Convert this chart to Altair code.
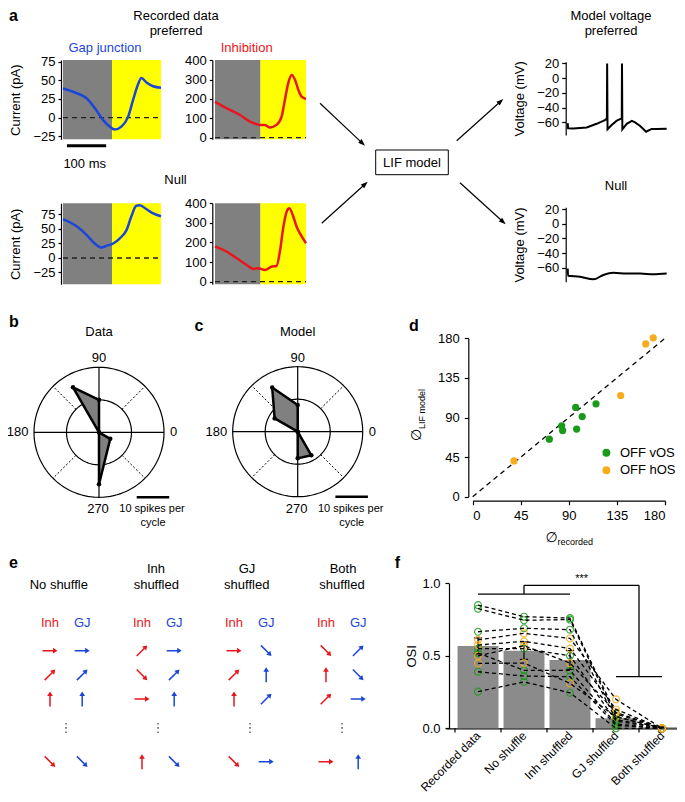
import math
import json
import altair as alt
import pandas as pd

W, H = 669, 786
FONT = "Liberation Sans"


def X(v):
    return round(v - 8, 2)


def Y(v):
    return round(v - 8, 2)


RED = "#e8161c"
BLUE = "#1b46d9"
GREEN = "#1a9a1a"
ORANGE = "#f8ac1c"
GRAYBG = "#808080"
YELLOW = "#ffff00"
BARGRAY = "#8b8b8b"

# ---------------- data ----------------
# panel a: recorded currents, time (ms) and current (pA)
STIM_T = [0, 125, 250]
T_GJ_PREF = [0, 34, 60, 85, 102, 119, 132, 149, 166, 179, 191, 200, 213, 230, 250]
I_GJ_PREF = [39, 33, 26, 10, -3, -12, -16, -12, 1, 24, 44, 53, 47, 42, 40]
T_INH_PREF = [0, 32, 69, 96, 124, 137, 151, 169, 183, 192, 201, 211, 220, 229, 238, 250]
I_INH_PREF = [185, 152, 117, 83, 66, 66, 53, 66, 109, 195, 281, 324, 298, 247, 212, 200]
T_GJ_NULL = [0, 34, 60, 81, 98, 111, 128, 145, 162, 174, 187, 196, 213, 230, 250]
I_GJ_NULL = [67, 55, 40, 25, 18, 21, 25, 34, 48, 71, 90, 91, 84, 77, 72]
T_INH_NULL = [0, 32, 60, 87, 105, 119, 137, 156, 169, 179, 188, 197, 204, 215, 224, 233, 250]
I_INH_NULL = [180, 153, 119, 85, 65, 68, 59, 77, 80, 162, 281, 357, 374, 332, 281, 247, 196]
SCALEBAR_MS = [10, 110]
# panel a: model voltage (mV)
T_V_PREF = [0, 1, 14, 48, 73, 94, 99, 99.6, 100.6, 111, 124, 136.5, 137.1, 138, 149, 162, 170, 183, 198, 212, 225, 250]
V_PREF = [-61, -68, -68.5, -67, -62, -57, -55, 20, -69.5, -63.6, -57.7, -54.6, 20, -69.5, -62, -58, -60, -65, -72.7, -69, -69, -68.6]
T_V_NULL = [0, 1, 31, 65, 90, 115, 149, 183, 216, 250]
V_NULL = [-61, -71, -72.3, -76, -70, -67, -68, -68, -69, -68]

# panels b, c: spikes per cycle by direction (deg)
B_ANG = [0, 90, 120, 180, 270, 330]
B_R = [0, 10, 16, 0, 16, 4]
C_ANG = [0, 90, 120, 150, 180, 270, 300]
C_R = [0, 8.2, 15.7, 8.2, 0, 8.2, 8.4]
SPIKE_BAR = [11.6, 21.6]

# panel d
VOS_REC = [96.4, 115.4, 102.5, 83.3, 84.2, 97.3, 71.7]
VOS_LIF = [101.4, 105.6, 91, 80.5, 75.2, 76.8, 65.4]
HOS_REC = [169, 162, 138.5, 38.6]
HOS_LIF = [180.5, 173.6, 115, 40.7]

# panel e: arrow directions (deg), rows of trials
E_COLS = ["No shuffle", "Inh shuffled", "GJ shuffled", "Both shuffled"]
E_ROWS = [0, 1, 2, 4.6]
E_INH = [[0, 45, 90, -45], [45, -45, 0, 90], [0, 45, 90, -45], [-45, 90, 45, 0]]
E_GJ = [[0, 45, 90, -45], [0, 45, 90, -45], [-45, 90, 45, 0], [45, -45, 0, 90]]

# panel f
CONDS = ["Recorded data", "No shuffle", "Inh shuffled", "GJ shuffled", "Both shuffled"]
OSI_MEAN = [0.568, 0.535, 0.471, 0.069, 0.007]
OSI_SEM = [0.055, 0.060, 0.065, 0.012, 0.003]
CELL_TYPE = ["vOS"] * 7 + ["hOS"] * 4
OSI_RECORDED = [0.85, 0.825, 0.666, 0.55, 0.52, 0.39, 0.253, 0.61, 0.574, 0.50, 0.448]
OSI_NO_SHUFFLE = [0.77, 0.745, 0.69, 0.55, 0.40, 0.36, 0.32, 0.655, 0.60, 0.57, 0.45]
OSI_INH_SHUFFLED = [0.76, 0.75, 0.68, 0.50, 0.40, 0.356, 0.245, 0.62, 0.55, 0.45, 0.31]
OSI_GJ_SHUFFLED = [0.10, 0.08, 0.06, 0.05, 0.03, 0.02, 0.0, 0.20, 0.13, 0.11, 0.08]
OSI_BOTH_SHUFFLED = [0.0] * 11


# ---------------- helpers ----------------
def sx(dom, a, b):
    return alt.Scale(domain=dom, range=[X(a), X(b)], nice=False, zero=False)


def sy(dom, bottom, top):
    return alt.Scale(domain=dom, range=[Y(bottom), Y(top)], nice=False, zero=False)


def laxis(axis_x, values, title=None, tick=3, pad=3, tpad=10, fmt=None):
    kw = dict(orient="left", offset=-X(axis_x), values=values, tickSize=tick,
              labelPadding=pad, grid=False, title=title)
    if title:
        kw["titlePadding"] = tpad
    if fmt:
        kw["format"] = fmt
    return alt.Axis(**kw)


ONE = pd.DataFrame({"k": [0]})


def text(s, x, y, size=13, color="black", weight="normal", align="center",
         baseline="middle", angle=0, font=FONT):
    kw = dict(text=s, fontSize=size, color=color, fontWeight=weight, align=align,
              baseline=baseline, font=font)
    if angle:
        kw["angle"] = angle
    return alt.Chart(ONE).mark_text(**kw).encode(x=alt.value(X(x)), y=alt.value(Y(y)))


def arrow(x1, y1, x2, y2, head=7):
    dx, dy = x2 - x1, y2 - y1
    L = math.hypot(dx, dy)
    ux, uy = dx / L, dy / L
    rot = math.degrees(math.atan2(dx, -dy)) % 360
    ex, ey = x2 - ux * head * 0.8, y2 - uy * head * 0.8
    cx, cy = x2 - ux * head / 2, y2 - uy * head / 2
    shaft = alt.Chart(ONE).mark_rule(color="black", strokeWidth=1.2).encode(
        x=alt.value(X(x1)), y=alt.value(Y(y1)), x2=alt.value(X(ex)), y2=alt.value(Y(ey)))
    tip = alt.Chart(ONE).mark_point(shape="M0,-1L0.72,1L-0.72,1Z", filled=True, color="black",
                                    size=head * head, angle=round(rot, 2), opacity=1,
                                    strokeWidth=0).encode(x=alt.value(X(cx)), y=alt.value(Y(cy)))
    return [shaft, tip]


layers = []


def trace(t, v, color, xa, xb, ybot, ytop, ydom, axis_x, ticks, title=None,
          shade=True, zero=True, interp="monotone", sw=2.5, tick=3, pad=3, tpad=10, bar=False):
    xs = sx([0, 250], xa, xb)
    ys = sy(ydom, ybot, ytop)
    yax = laxis(axis_x, ticks, title, tick=tick, pad=pad, tpad=tpad)
    parts = []
    if shade:
        bg = pd.DataFrame({"t0": STIM_T[:2], "t1": STIM_T[1:], "v0": [ydom[0]] * 2,
                           "v1": [ydom[1]] * 2, "k": ["off", "on"]})
        parts.append(alt.Chart(bg).mark_rect().encode(
            x=alt.X("t0:Q", scale=xs, axis=None), x2="t1:Q",
            y=alt.Y("v0:Q", scale=ys, axis=yax), y2="v1:Q",
            fill=alt.Fill("k:N", scale=alt.Scale(domain=["off", "on"], range=[GRAYBG, YELLOW]),
                          legend=None)))
    if zero:
        z = pd.DataFrame({"t0": [STIM_T[0]], "t1": [STIM_T[-1]], "v": [0]})
        parts.append(alt.Chart(z).mark_rule(color="#222222", strokeDash=[5, 4], strokeWidth=1.3).encode(
            x=alt.X("t0:Q", scale=xs, axis=None), x2="t1:Q",
            y=alt.Y("v:Q", scale=ys, axis=yax)))
    if bar:
        sb = pd.DataFrame({"a": [SCALEBAR_MS[0]], "b": [SCALEBAR_MS[1]]})
        parts.append(alt.Chart(sb).mark_rule(color="black", strokeWidth=3).encode(
            x=alt.X("a:Q", scale=xs, axis=None), x2="b:Q", y=alt.value(Y(145.7))))
    df = pd.DataFrame({"t": t, "v": v})
    parts.append(alt.Chart(df).mark_line(color=color, strokeWidth=sw, interpolate=interp).encode(
        x=alt.X("t:Q", scale=xs, axis=None),
        y=alt.Y("v:Q", scale=ys, axis=yax)))
    return alt.layer(*parts)


CUR = [-25, 0, 25, 50, 75]
INH = [0, 100, 200, 300, 400]
VOL = [-60, -40, -20, 0, 20]
layers.append(trace(T_GJ_PREF, I_GJ_PREF, BLUE, 63, 161, 139.3, 60, [-29, 77.2], 61, CUR, "Current (pA)", bar=True))
layers.append(trace(T_INH_PREF, I_INH_PREF, RED, 215, 306, 139.3, 60, [-8.6, 401.7], 212.3, INH))
layers.append(trace(T_GJ_NULL, I_GJ_NULL, BLUE, 63, 161, 284.3, 203.3, [-45.4, 94.3], 61, CUR, "Current (pA)"))
layers.append(trace(T_INH_NULL, I_INH_NULL, RED, 215, 306, 284.3, 203.3, [-13.6, 399.5], 212.3, INH))
layers.append(trace(T_V_PREF, V_PREF, "black", 567.7, 666.7, 135, 61.7, [-77.2, 22.3], 565.7, VOL,
                    "Voltage (mV)", shade=False, zero=False, interp="linear", sw=2, tick=4))
layers.append(trace(T_V_NULL, V_NULL, "black", 567.7, 666.7, 281.7, 207.3, [-79.2, 22.7], 565.7, VOL,
                    "Voltage (mV)", shade=False, zero=False, interp="monotone", sw=2, tick=4))

layers += [
    text("a", 9, 16, size=16, weight="bold", align="left"),
    text("Recorded data", 176, 15.5),
    text("preferred", 176, 30.5),
    text("Gap junction", 105, 48, color=BLUE),
    text("Inhibition", 246.7, 48, color=RED),
    text("100 ms", 84.7, 164),
    text("Null", 175.5, 180),
    text("Model voltage", 611, 15.5),
    text("preferred", 611, 30.5),
    text("Null", 616, 186),
]
layers.append(alt.Chart(ONE).mark_rect(fill="white", stroke="black", strokeWidth=1).encode(
    x=alt.value(X(375.7)), x2=alt.value(X(448.3)), y=alt.value(Y(150)), y2=alt.value(Y(174.7))))
layers.append(text("LIF model", 412, 162.5))
layers += arrow(320, 103.3, 365, 145.7)
layers += arrow(321.7, 223.3, 367.7, 181.7)
layers += arrow(456.7, 140.7, 503.3, 99)
layers += arrow(460, 182.7, 505.7, 224.3)


# ---------------- panels b, c ----------------
def polar(cx, cy, ang, r, title, R=65):
    xs = sx([-20, 20], cx - R, cx + R)
    ys = sy([-20, 20], cy + R, cy - R)
    parts = []
    seq = alt.sequence(0, 362, 2, as_="a")
    for rad in (10, 20):
        parts.append(alt.Chart(seq).transform_calculate(
            px=f"{rad}*cos(datum.a*PI/180)", py=f"{rad}*sin(datum.a*PI/180)"
        ).mark_line(color="black", strokeWidth=1.2).encode(
            x=alt.X("px:Q", scale=xs, axis=None), y=alt.Y("py:Q", scale=ys, axis=None),
            order="a:Q"))
    solid = pd.DataFrame({"ang": [0, 90, 180, 270], "r0": [0] * 4, "r1": [20] * 4})
    dotted = pd.DataFrame({"ang": [45, 135, 225, 315], "r0": [10] * 4, "r1": [20] * 4})
    calc = dict(x0="datum.r0*cos(datum.ang*PI/180)", y0="datum.r0*sin(datum.ang*PI/180)",
                x1="datum.r1*cos(datum.ang*PI/180)", y1="datum.r1*sin(datum.ang*PI/180)")
    for d, dash, w in ((solid, None, 1.2), (dotted, [2, 2], 1)):
        mk = dict(color="black", strokeWidth=w)
        if dash:
            mk["strokeDash"] = dash
        parts.append(alt.Chart(d).transform_calculate(**calc).mark_rule(**mk).encode(
            x=alt.X("x0:Q", scale=xs, axis=None), y=alt.Y("y0:Q", scale=ys, axis=None),
            x2="x1:Q", y2="y1:Q"))
    poly = pd.DataFrame({"ang": ang, "r": r, "idx": list(range(len(ang)))})
    pc = dict(px="datum.r*cos(datum.ang*PI/180)", py="datum.r*sin(datum.ang*PI/180)")
    parts.append(alt.Chart(poly).transform_calculate(**pc).mark_line(
        interpolate="linear-closed", color="black", strokeWidth=2.5, strokeJoin="round").encode(
        x=alt.X("px:Q", scale=xs, axis=None), y=alt.Y("py:Q", scale=ys, axis=None),
        order="idx:Q", fill=alt.value(GRAYBG)))
    parts.append(alt.Chart(poly).transform_calculate(**pc).mark_circle(color="black", size=20, opacity=1).encode(
        x=alt.X("px:Q", scale=xs, axis=None), y=alt.Y("py:Q", scale=ys, axis=None)))
    sb = pd.DataFrame({"a": [SPIKE_BAR[0]], "b": [SPIKE_BAR[1]]})
    parts.append(alt.Chart(sb).mark_rule(color="black", strokeWidth=2.5).encode(
        x=alt.X("a:Q", scale=xs, axis=None), x2="b:Q", y=alt.value(Y(cy + 65))))
    out = [alt.layer(*parts)]
    out += [
        text(title, cx, 331.7),
        text("90", cx, 358),
        text("180", cx - 70.5, cy, align="right"),
        text("0", cx + 71, cy, align="left"),
        text("270", cx - 1, 509),
        text("10 spikes per", cx + 53, 509.3, size=11),
        text("cycle", cx + 54, 523.3, size=11),
    ]
    return out


layers += polar(99, 432.3, B_ANG, B_R, "Data")
layers += polar(297.7, 431.7, C_ANG, C_R, "Model")
layers += [
    text("b", 9, 322, size=16, weight="bold", align="left"),
    text("c", 199, 326, size=16, weight="bold"),
    text("d", 414, 326, size=16, weight="bold"),
]

# ---------------- panel d ----------------
dxs = sx([0, 180], 472.7, 665)
dys = sy([0, 180], 496.7, 338.3)
dxax = alt.Axis(orient="bottom", offset=Y(500.7) - H, values=[0, 45, 90, 135, 180], tickSize=4,
                labelPadding=5, title=None, grid=False)
dyax = laxis(468.3, [0, 45, 90, 135, 180], tick=4, pad=5)
diag = pd.DataFrame({"a": [0], "b": [180]})
d_rule = alt.Chart(diag).mark_rule(color="black", strokeDash=[5, 4], strokeWidth=1.3).encode(
    x=alt.X("a:Q", scale=dxs, axis=dxax), y=alt.Y("a:Q", scale=dys, axis=dyax),
    x2="b:Q", y2="b:Q")
sc = pd.DataFrame({"rec": VOS_REC + HOS_REC, "lif": VOS_LIF + HOS_LIF,
                   "type": ["OFF vOS"] * len(VOS_REC) + ["OFF hOS"] * len(HOS_REC)})
d_pts = alt.Chart(sc).mark_circle(size=52, opacity=1).encode(
    x=alt.X("rec:Q", scale=dxs, axis=dxax),
    y=alt.Y("lif:Q", scale=dys, axis=dyax),
    color=alt.Color("type:N", scale=alt.Scale(domain=["OFF vOS", "OFF hOS"], range=[GREEN, ORANGE]),
                    legend=alt.Legend(orient="none", legendX=X(599.9), legendY=Y(446.2), title=None,
                                      labelFontSize=13, labelFont=FONT, symbolSize=62,
                                      symbolType="circle", labelOffset=7, rowPadding=3.6,
                                      padding=0, symbolStrokeWidth=0, labelColor="black")))
layers.append(alt.layer(d_rule, d_pts))
layers += [
    text("\u2205", 551.7, 538.3, size=14, font="DejaVu Sans"),
    text("recorded", 575.3, 541.7, size=9),
    text("\u2205", 416.7, 435, size=14, angle=270, font="DejaVu Sans"),
    text("LIF model", 421.5, 409, size=9, angle=270),
]

# ---------------- panel e ----------------
rows = []
for c in range(4):
    for side, dirs, kind in ((0, E_INH[c], "Inh"), (1, E_GJ[c], "GJ")):
        for ri, d in zip(E_ROWS, dirs):
            rows.append({"c": c, "side": side, "row": ri, "dir": d, "kind": kind})
edf = pd.DataFrame(rows)
exs = sx([0, 3], 50, 326)
eys = alt.Scale(domain=[0, 4.6], range=[Y(650.7), Y(761.7)], nice=False, zero=False)
ARROW = "M-0.1,1L0.1,1L0.1,-0.4L0.38,-0.4L0,-1L-0.38,-0.4L-0.1,-0.4Z"
kind_color = alt.Color("kind:N", scale=alt.Scale(domain=["Inh", "GJ"], range=[RED, BLUE]), legend=None)
e_arrows = alt.Chart(edf).transform_calculate(
    pos="datum.c + 0.35*datum.side", rot="90 - datum.dir"
).mark_point(shape=ARROW, filled=True, size=225, opacity=1, strokeWidth=0).encode(
    x=alt.X("pos:Q", scale=exs, axis=None), y=alt.Y("row:Q", scale=eys, axis=None),
    angle=alt.Angle("rot:Q", scale=None), color=kind_color)
lab = pd.DataFrame({"c": [c for c in range(4) for _ in (0, 1)], "side": [0, 1] * 4,
                    "kind": ["Inh", "GJ"] * 4})
e_labels = alt.Chart(lab).transform_calculate(pos="datum.c + 0.35*datum.side").mark_text(
    font=FONT, fontSize=13).encode(
    x=alt.X("pos:Q", scale=exs, axis=None), y=alt.value(Y(623.3)), text="kind:N", color=kind_color)
dots = pd.DataFrame({"c": list(range(4)), "row": [3.2] * 4})
e_dots = alt.Chart(dots).transform_calculate(pos="datum.c + 0.175").mark_text(
    text="\u22ee", font="DejaVu Sans", fontSize=13, color="#555555").encode(
    x=alt.X("pos:Q", scale=exs, axis=None), y=alt.Y("row:Q", scale=eys, axis=None))
layers.append(alt.layer(e_arrows, e_labels, e_dots))
layers += [
    text("e", 9, 563, size=16, weight="bold", align="left"),
    text("No shuffle", 58.8, 585),
    text("Inh", 156, 569.3), text("shuffled", 156.3, 585),
    text("GJ", 247, 569.3), text("shuffled", 246.7, 585),
    text("Both", 343, 569.3), text("shuffled", 342, 585),
    text("f", 397.5, 563, size=16, weight="bold"),
]

# ---------------- panel f ----------------
fxs = sx([-0.7, 4.5], 445.8, 685)
fys = sy([0, 1], 728.3, 583.3)
LABEL_EXPR = json.dumps(CONDS) + "[datum.value]"
fxax = alt.Axis(orient="bottom", offset=Y(728.3) - H, values=[0, 1, 2, 3, 4],
                labelExpr=LABEL_EXPR, labelAngle=315, labelAlign="right",
                labelBaseline="middle", ticks=False, tickSize=0, labelPadding=5,
                labelFontSize=12, labelOverlap=False, labelBound=False, title=None, grid=False)
fyax = laxis(449, [0, 0.5, 1], "OSI", tick=4, pad=5, tpad=3, fmt=".1f")
bars = pd.DataFrame({"i": list(range(5)), "mean": OSI_MEAN, "sem": OSI_SEM})
f_bar = alt.Chart(bars).transform_calculate(
    l="datum.i - 0.445", r="datum.i + 0.445", z="0"
).mark_bar(color=BARGRAY).encode(
    x=alt.X("l:Q", scale=fxs, axis=fxax), x2="r:Q",
    y=alt.Y("z:Q", scale=fys, axis=fyax), y2="mean:Q")
edges = pd.DataFrame({"e": [-0.5, 0.5, 1.5, 2.5, 3.5, 4.5]})
f_ticks = alt.Chart(edges).mark_rule(color="black", strokeWidth=1.2).encode(
    x=alt.X("e:Q", scale=fxs, axis=fxax), y=alt.value(Y(728.3)), y2=alt.value(Y(732.5)))
errc = dict(lo="datum.mean - datum.sem", hi="datum.mean + datum.sem",
            cl="datum.i - 0.09", cr="datum.i + 0.09")
f_err = alt.Chart(bars).transform_calculate(**errc).mark_rule(color="black", strokeWidth=1.2).encode(
    x=alt.X("i:Q", scale=fxs, axis=fxax), y=alt.Y("lo:Q", scale=fys, axis=fyax), y2="hi:Q")
f_cap1 = alt.Chart(bars).transform_calculate(**errc).mark_rule(color="black", strokeWidth=1.2).encode(
    x=alt.X("cl:Q", scale=fxs, axis=fxax), x2="cr:Q", y=alt.Y("hi:Q", scale=fys, axis=fyax))
f_cap2 = alt.Chart(bars).transform_calculate(**errc).mark_rule(color="black", strokeWidth=1.2).encode(
    x=alt.X("cl:Q", scale=fxs, axis=fxax), x2="cr:Q", y=alt.Y("lo:Q", scale=fys, axis=fyax))
cells = []
for ci, series in enumerate([OSI_RECORDED, OSI_NO_SHUFFLE, OSI_INH_SHUFFLED, OSI_GJ_SHUFFLED, OSI_BOTH_SHUFFLED]):
    for k, v in enumerate(series):
        cells.append({"cell": k, "type": CELL_TYPE[k], "i": ci, "osi": v})
cdf = pd.DataFrame(cells)
f_pts = alt.Chart(cdf).mark_point(shape="circle", filled=False, size=48, strokeWidth=1.1, opacity=0.85).encode(
    x=alt.X("i:Q", scale=fxs, axis=fxax), y=alt.Y("osi:Q", scale=fys, axis=fyax),
    color=alt.Color("type:N", scale=alt.Scale(domain=["vOS", "hOS"], range=[GREEN, ORANGE]), legend=None))
f_lines = alt.Chart(cdf).mark_line(color="black", strokeDash=[4, 3], strokeWidth=1.3).encode(
    x=alt.X("i:Q", scale=fxs, axis=fxax), y=alt.Y("osi:Q", scale=fys, axis=fyax),
    detail="cell:N", order="i:Q")
brk = pd.DataFrame({"x": [0, 1, 1, 3.5, 3], "x2": [2, 1, 3.5, 3.5, 4],
                    "y": [0.926, 0.926, 0.986, 0.986, 0.356], "y2": [0.926, 0.986, 0.986, 0.356, 0.356]})
f_brk = alt.Chart(brk).mark_rule(color="black", strokeWidth=1.3).encode(
    x=alt.X("x:Q", scale=fxs, axis=fxax), x2="x2:Q",
    y=alt.Y("y:Q", scale=fys, axis=fyax), y2="y2:Q")
layers.append(alt.layer(f_bar, f_ticks, f_err, f_cap1, f_cap2, f_pts, f_lines, f_brk))
layers.append(text("***", 581.7, 579, size=11))

chart = alt.layer(*layers).resolve_scale(
    x="independent", y="independent", color="independent", fill="independent",
    angle="independent", size="independent", shape="independent", opacity="independent",
    stroke="independent"
).resolve_axis(x="independent", y="independent").resolve_legend(
    color="independent", fill="independent"
).properties(
    width=W, height=H, autosize=alt.AutoSizeParams(type="none"), padding=0
).configure_view(stroke="transparent").configure_axis(
    labelFont=FONT, titleFont=FONT, labelFontSize=13, titleFontSize=13, titleFontWeight="normal",
    labelColor="black", titleColor="black", domainColor="black", tickColor="black",
    domainWidth=1.2, tickWidth=1.2
).configure_text(font=FONT)

chart.save("out.html", embed_options={"renderer": "svg", "actions": False})
